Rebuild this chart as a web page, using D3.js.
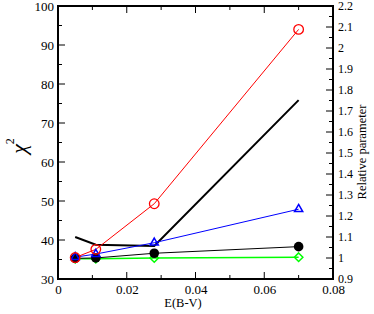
<!DOCTYPE html>
<html lang="en">
<head>
<meta charset="UTF-8">
<title>chi2 vs E(B-V)</title>
<script src="https://d3js.org/d3.v7.min.js"></script>
<style>
  body { margin: 0; background: #fff; }
  svg { display: block; }
  svg text { font-family: "Liberation Serif", "Times New Roman", "DejaVu Serif", serif; fill: #000; }
  .tick text { font-size: 13px; }
</style>
</head>
<body>
<svg id="chart" width="374" height="314"></svg>
<script>
// E(B-V) values shared by every series
const ebv = [0.005, 0.011, 0.028, 0.07];

// chi^2 series (left axis)
const redChi = [35.5, 37.6, 49.3, 94.0];
const blueChi = [35.6, 36.4, 39.3, 47.9];
const blackChi = [35.3, 35.4, 36.6, 38.3];
const greenChi = [35.2, 35.2, 35.4, 35.6];

// relative parameter (right axis), thick line without markers
const relParam = [1.1, 1.063, 1.057, 1.752];

const xTicks = [0, 0.02, 0.04, 0.06, 0.08];
const yTicks = [30, 40, 50, 60, 70, 80, 90, 100];
const rTicks = [0.9, 1, 1.1, 1.2, 1.3, 1.4, 1.5, 1.6, 1.7, 1.8, 1.9, 2, 2.1, 2.2];

const svg = d3.select("#chart");
const pL = 58, pR = 333, pT = 6, pB = 279;

const x = d3.scaleLinear().domain([0, 0.08]).range([pL, pR]);
const y = d3.scaleLinear().domain([30, 100]).range([pB, pT]);
const yr = d3.scaleLinear().domain([0.9, 2.2]).range([pB, pT]);

// major + minor ticks, all pointing inward
const g = svg.append("g");
function ticks(values, fn) {
  values.forEach(v => { const [x1, y1, x2, y2] = fn(v);
    g.append("line").attr("x1", x1).attr("y1", y1).attr("x2", x2).attr("y2", y2)
      .attr("stroke", "#000").attr("stroke-width", 1); });
}
const xMinor = d3.range(0, 0.0801, 0.01);
ticks(xMinor, v => [x(v), pB, x(v), pB - (Math.round(v * 100) % 2 ? 4 : 7)]);
ticks(xMinor, v => [x(v), pT, x(v), pT + (Math.round(v * 100) % 2 ? 4 : 7)]);
ticks(d3.range(30, 100.1, 5), v => [pL, y(v), pL + (v % 10 ? 4 : 7), y(v)]);
ticks(d3.range(0.9, 2.201, 0.05), v => [pR, yr(v), pR - (Math.round(v * 100) % 10 ? 4 : 7), yr(v)]);

// axes for labels
const xAxis = svg.append("g").attr("transform", `translate(0,${pB})`)
  .call(d3.axisBottom(x).tickValues(xTicks).tickSize(0).tickPadding(6).tickFormat(d => d === 0 ? "0" : d3.format(".2f")(d)));
const yAxis = svg.append("g").attr("transform", `translate(${pL},0)`)
  .call(d3.axisLeft(y).tickValues(yTicks).tickSize(0).tickPadding(4));
const rAxis = svg.append("g").attr("transform", `translate(${pR},0)`)
  .call(d3.axisRight(yr).tickValues(rTicks).tickSize(0).tickPadding(5).tickFormat(d3.format("~g")));
[xAxis, yAxis, rAxis].forEach(a => { a.attr("font-family", null); a.select(".domain").remove(); });
rAxis.selectAll(".tick text").style("font-size", "12px");

// frame
svg.append("rect").attr("x", pL).attr("y", pT).attr("width", pR - pL).attr("height", pB - pT)
  .attr("fill", "none").attr("stroke", "#000").attr("stroke-width", 2);

// axis titles
const chi = svg.append("text").attr("transform", "translate(26,146) rotate(-90)").attr("text-anchor", "middle")
  .attr("font-size", 22);
chi.append("tspan").attr("font-style", "italic").text("χ");
chi.append("tspan").attr("font-size", 12).attr("dy", -12).text("2");
svg.append("text").attr("x", 183).attr("y", 307).attr("text-anchor", "middle")
  .attr("font-size", 12.5).text("E(B-V)");
svg.append("text").attr("transform", "translate(366,152) rotate(-90)").attr("text-anchor", "middle")
  .attr("font-size", 12.5).text("Relative parameter");

const plot = svg.append("g");
function series(vals, scale, color, width) {
  const pts = ebv.map((e, i) => [x(e), scale(vals[i])]);
  plot.append("path").attr("d", d3.line()(pts)).attr("fill", "none")
    .attr("stroke", color).attr("stroke-width", width);
  return pts;
}

const greenPts = series(greenChi, y, "#00ff00", 1.5);
const blackPts = series(blackChi, y, "#000", 1);
const relPts = series(relParam, yr, "#000", 2);
const bluePts = series(blueChi, y, "#0000ff", 1);
const redPts = series(redChi, y, "#ff0000", 1);

plot.selectAll(".gm").data(greenPts).enter().append("path")
  .attr("d", d3.symbol(d3.symbolDiamond2, 46)())
  .attr("transform", d => `translate(${d[0]},${d[1]})`)
  .attr("fill", "none").attr("stroke", "#00ff00").attr("stroke-width", 1.5);
plot.selectAll(".km").data(blackPts).enter().append("circle")
  .attr("cx", d => d[0]).attr("cy", d => d[1]).attr("r", 4.8).attr("fill", "#000");
plot.selectAll(".bm").data(bluePts).enter().append("path")
  .attr("d", d3.symbol(d3.symbolTriangle2, 48)())
  .attr("transform", d => `translate(${d[0]},${d[1]})`)
  .attr("fill", "none").attr("stroke", "#0000ff").attr("stroke-width", 1.5);
plot.selectAll(".rm").data(redPts).enter().append("circle")
  .attr("cx", d => d[0]).attr("cy", d => d[1]).attr("r", 4.8)
  .attr("fill", "none").attr("stroke", "#ff0000").attr("stroke-width", 1.3);
</script>
</body>
</html>
